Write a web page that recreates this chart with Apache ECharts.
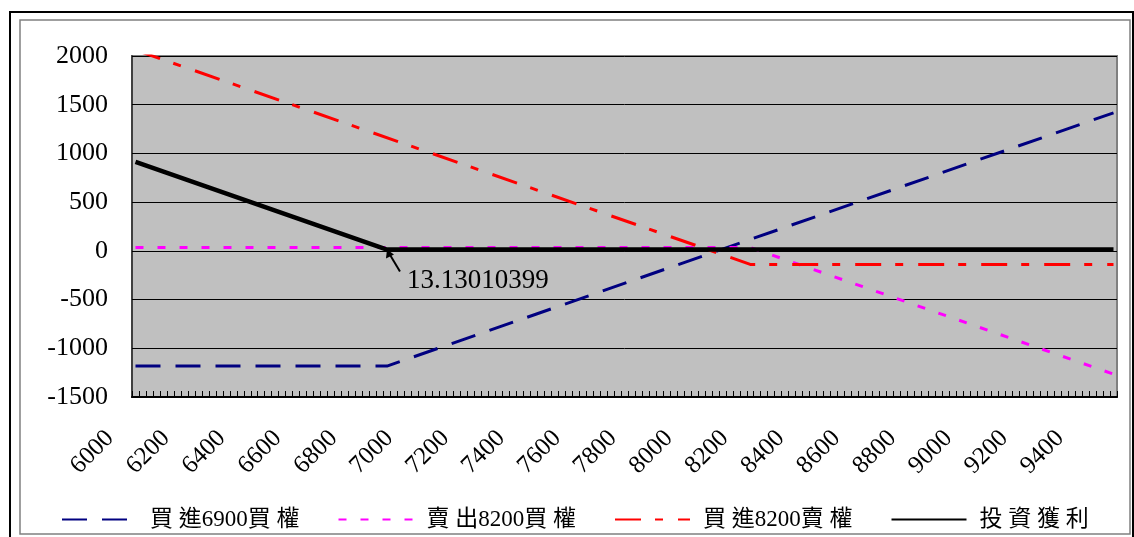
<!DOCTYPE html>
<html>
<head>
<meta charset="utf-8">
<script src="https://cdn.jsdelivr.net/npm/echarts@6/dist/echarts.min.js"></script>
<style>
  html, body { margin: 0; padding: 0; background: #fff; }
  #main { width: 1134px; height: 537px; }
</style>
</head>
<body>
<div id="main"></div>
<script>
// 價格區間 (每 25 點一格)
var xStart = 6000, xEnd = 9500, xStep = 25;
var seriesNames = ['買 進6900買 權', '賣 出8200買 權', '買 進8200賣 權', '投 資 獲 利'];
// 轉折點讀值
var buyCall6900 = [['6000', -1183], ['6900', -1183], ['9500', 1417]];
var sellCall8200 = [['6000', 35], ['8200', 35], ['9500', -1265]];
var buyPut8200 = [['6000', 2061.13], ['8200', -138.87], ['9500', -138.87]];
var profit = [['6000', 913.13], ['6900', 13.13010399], ['9500', 13.13]];
var breakEven = ['6900', 13.13010399];
var yTicks = { min: -1500, max: 2000, step: 500 };

var categories = [];
for (var v = xStart; v <= xEnd; v += xStep) categories.push(String(v));

var serif = "'Liberation Serif', 'Noto Sans CJK TC', serif";
var chart = echarts.init(document.getElementById('main'));

var option = {
    backgroundColor: '#fff',
    animation: false,
    grid: {
        left: 132, right: 17, top: 56, bottom: 140,
        show: true,
        backgroundColor: '#C0C0C0',
        borderColor: '#808080',
        borderWidth: 2
    },
    legend: {
        left: 56,
        top: 503,
        itemWidth: 75,
        itemHeight: 14,
        itemGap: 38,
        itemStyle: { opacity: 0 },
        textStyle: { fontFamily: serif, fontSize: 23, color: '#000', padding: [0, 0, 0, 8] },
        data: seriesNames
    },
    xAxis: {
        type: 'category',
        data: categories,
        boundaryGap: true,
        axisLine: { onZero: false, lineStyle: { color: '#000', width: 2 } },
        axisTick: { show: true, inside: true, length: 6, interval: 0, lineStyle: { color: '#000' } },
        axisLabel: {
            interval: 7,
            rotate: 45,
            margin: 12,
            padding: [0, 36, 0, 0],
            fontFamily: serif,
            fontSize: 25,
            color: '#000'
        },
        splitLine: { show: false }
    },
    yAxis: {
        type: 'value',
        min: yTicks.min,
        max: yTicks.max,
        interval: yTicks.step,
        axisLine: { show: true, lineStyle: { color: '#404040', width: 2 } },
        axisTick: { show: true, inside: true, length: 5, lineStyle: { color: '#000' } },
        axisLabel: {
            margin: 24, fontFamily: serif, fontSize: 26, color: '#000',
            formatter: function (val) { return String(val); }
        },
        splitLine: { lineStyle: { color: '#000', width: 1 } }
    },
    series: [
        {
            name: seriesNames[0], type: 'line', data: buyCall6900, symbol: 'none',
            itemStyle: { color: '#000080' },
            lineStyle: { color: '#000080', width: 3, type: [25, 15] }
        },
        {
            name: seriesNames[1], type: 'line', data: sellCall8200, symbol: 'none',
            itemStyle: { color: '#FF00FF' },
            lineStyle: { color: '#FF00FF', width: 3, type: [8, 14] }
        },
        {
            name: seriesNames[2], type: 'line', data: buyPut8200, symbol: 'none',
            itemStyle: { color: '#FF0000' },
            lineStyle: { color: '#FF0000', width: 3, type: [26, 14, 8, 15] }
        },
        {
            name: seriesNames[3], type: 'line', data: profit, symbol: 'none',
            itemStyle: { color: '#000' },
            lineStyle: { color: '#000', width: 4.5 }
        }
    ]
};
chart.setOption(option);

// 標註 13.13010399 的箭頭與文字
var p = chart.convertToPixel({ xAxisIndex: 0, yAxisIndex: 0 }, [categories.indexOf(breakEven[0]), breakEven[1]]);
chart.setOption({
    graphic: [
        { type: 'rect', shape: { x: 10, y: 12, width: 1123, height: 600 },
          style: { fill: 'none', stroke: '#000', lineWidth: 2 }, silent: true },
        { type: 'rect', shape: { x: 20, y: 20, width: 1110, height: 514 },
          style: { fill: 'none', stroke: '#808080', lineWidth: 1.5 }, silent: true },
        { type: 'line', shape: { x1: p[0] + 13, y1: p[1] + 22, x2: p[0] + 1, y2: p[1] + 2 },
          style: { stroke: '#000', lineWidth: 2 }, silent: true },
        { type: 'polygon', shape: { points: [[p[0], p[1]], [p[0] - 1, p[1] + 9], [p[0] + 7, p[1] + 5]] },
          style: { fill: '#000' }, silent: true },
        { type: 'text', x: p[0] + 20, y: p[1] + 31,
          style: { text: String(breakEven[1]), font: '27px ' + serif, fill: '#000',
                   textAlign: 'left', textVerticalAlign: 'middle' }, silent: true }
    ]
});
</script>
</body>
</html>
